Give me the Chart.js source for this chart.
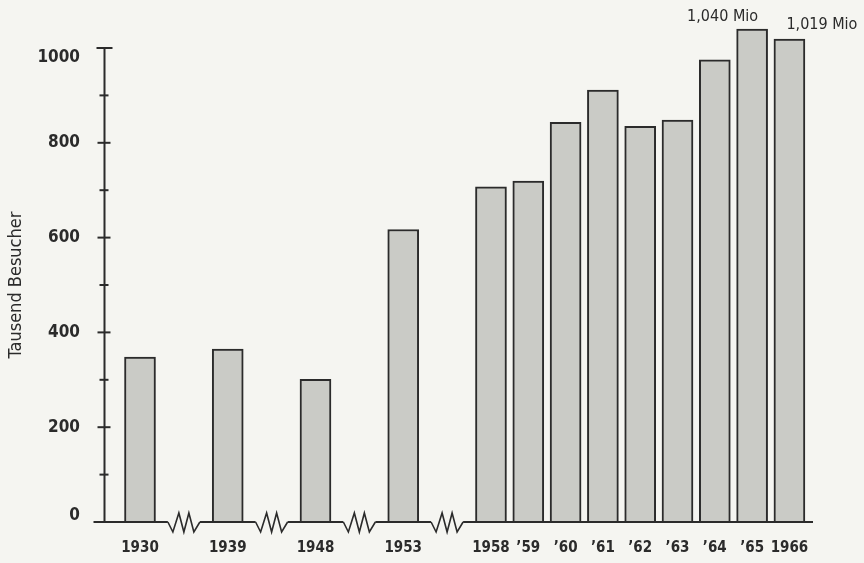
<!DOCTYPE html>
<html>
<head>
<meta charset="utf-8">
<script src="https://cdn.jsdelivr.net/npm/chart.js@4/dist/chart.umd.min.js"></script>
<style>
  html, body { margin: 0; padding: 0; background: #f5f5f1; }
  #wrap { width: 864px; height: 563px; }
</style>
</head>
<body>
<div id="wrap"><canvas id="c" width="864" height="563"></canvas></div>
<script>
// ---- data ----
const years = [1930, 1939, 1948, 1953, 1958, 1959, 1960, 1961, 1962, 1963, 1964, 1965, 1966];
const tickLabels = ['1930', '1939', '1948', '1953', '1958', '\u201959', '\u201960', '\u201961', '\u201962', '\u201963', '\u201964', '\u201965', '1966'];
const visitors = [348, 365, 301, 617, 707, 719, 843, 911, 835, 848, 975, 1040, 1019];
const valueNotes = [null, null, null, null, null, null, null, null, null, null, null, '1,040 Mio', '1,019 Mio'];
const yTitle = 'Tausend Besucher';

// ---- layout / style ----
const BREAK_GAP = 2.352;          // width of a broken time interval, in bar slots
const INK = '#2b2b2b';
const FILL = '#cacbc6';
const BG = '#f5f5f1';
const FONT = '"Liberation Sans Narrow", "DejaVu Sans Condensed", "Arial Narrow", sans-serif';

// slot positions on the x scale (a break where years are not consecutive)
const slots = [];
const breaks = [];
years.forEach((y, i) => {
  if (i === 0) { slots.push(0); return; }
  const isBreak = y - years[i - 1] > 1;
  slots.push(slots[i - 1] + (isBreak ? BREAK_GAP : 1));
  if (isBreak) breaks.push(i);
});

const axesPlugin = {
  id: 'axesPlugin',
  afterDraw(chart) {
    const ctx = chart.ctx;
    const xs = chart.scales.x, ys = chart.scales.y;
    const ax = chart.chartArea.left + 0.5;
    const y0 = ys.getPixelForValue(0);
    ctx.save();
    ctx.strokeStyle = INK;
    ctx.lineCap = 'butt';
    // x axis line with breaks
    ctx.lineWidth = 2;
    ctx.beginPath();
    ctx.moveTo(ax - 11, y0);
    ctx.lineTo(chart.chartArea.right, y0);
    ctx.stroke();
    breaks.forEach(i => {
      const cx = (xs.getPixelForValue(slots[i - 1]) + xs.getPixelForValue(slots[i])) / 2;
      ctx.fillStyle = BG;
      ctx.fillRect(cx - 16, y0 - 3, 32, 6);
      ctx.lineWidth = 1.6;
      ctx.lineJoin = 'miter';
      ctx.beginPath();
      const pts = [[-16, 0], [-11, 10], [-5, -9], [0, 10], [5, -9], [10, 10], [16, 0]];
      pts.forEach((p, k) => { if (k === 0) ctx.moveTo(cx + p[0], y0 + p[1]); else ctx.lineTo(cx + p[0], y0 + p[1]); });
      ctx.stroke();
    });
    // y axis line
    const yTop = ys.getPixelForValue(1000);
    ctx.lineWidth = 2;
    ctx.beginPath();
    ctx.moveTo(ax, y0);
    ctx.lineTo(ax, yTop);
    ctx.stroke();
    // tick marks
    for (let v = 100; v <= 1000; v += 100) {
      const py = ys.getPixelForValue(v);
      let l, r;
      if (v === 1000) { l = 8; r = 8; }
      else if (v % 200 === 0) { l = 7; r = 6; }
      else { l = 5; r = 4; }
      ctx.beginPath();
      ctx.moveTo(ax - l, py);
      ctx.lineTo(ax + r, py);
      ctx.stroke();
    }
    // value notes
    const meta = chart.getDatasetMeta(0);
    ctx.fillStyle = INK;
    ctx.font = '16px ' + FONT;
    ctx.textBaseline = 'middle';
    valueNotes.forEach((t, i) => {
      if (!t) return;
      const bar = meta.data[i];
      if (i === valueNotes.length - 1) {
        ctx.textAlign = 'left';
        ctx.fillText(t, bar.x - 3, bar.y - 14);
      } else {
        ctx.textAlign = 'right';
        ctx.fillText(t, bar.x + 6, bar.y - 12);
      }
    });
    ctx.restore();
  }
};

new Chart(document.getElementById('c'), {
  type: 'bar',
  data: {
    datasets: [{
      data: slots.map((s, i) => ({ x: s, y: visitors[i] })),
      backgroundColor: FILL,
      borderColor: INK,
      borderWidth: 2,
      borderSkipped: 'bottom',
      barThickness: 31,
      clip: false
    }]
  },
  options: {
    responsive: false,
    animation: false,
    events: [],
    layout: { padding: { top: 48, right: 51, bottom: 0, left: 0 } },
    plugins: { legend: { display: false }, tooltip: { enabled: false } },
    scales: {
      x: {
        type: 'linear',
        offset: false,
        min: -0.965,
        max: 18.04,
        grid: { display: false, drawTicks: false, offset: false },
        border: { display: false },
        afterBuildTicks: (scale) => { scale.ticks = slots.map(v => ({ value: v })); },
        afterFit: (scale) => { scale.height = 41; },
        ticks: {
          autoSkip: false,
          maxRotation: 0,
          padding: 17,
          color: INK,
          font: { family: FONT, size: 15, weight: 'bold' },
          callback: (v, i) => tickLabels[i]
        }
      },
      y: {
        min: 0,
        max: 1000,
        grid: { display: false, drawTicks: false },
        border: { display: false },
        afterFit: (scale) => { scale.width = 104; },
        title: {
          display: true,
          text: yTitle,
          color: INK,
          padding: { top: 6, bottom: 0 },
          font: { family: FONT, size: 18, lineHeight: 1.2 }
        },
        ticks: {
          stepSize: 200,
          padding: 24,
          color: INK,
          font: (c) => {
            const v = c.tick ? c.tick.value : null;
            return { family: FONT, size: 17, weight: 'bold',
                     lineHeight: v === 1000 ? 1.1 : (v === 0 ? 0.8 : 1.2) };
          },
          callback: (v) => v === 1000 ? ['', String(v)] : (v === 0 ? [String(v), ''] : String(v))
        }
      }
    }
  },
  plugins: [axesPlugin]
});
</script>
</body>
</html>
